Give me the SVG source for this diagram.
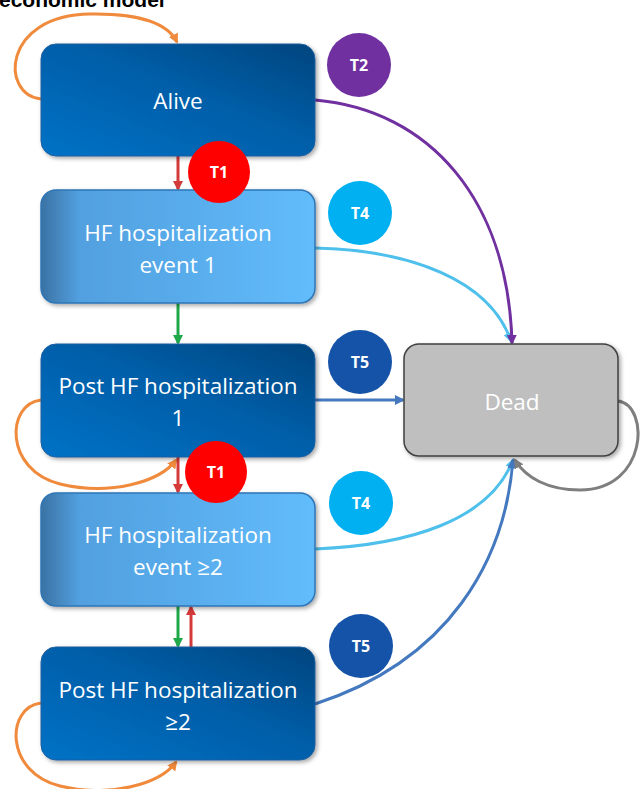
<svg xmlns="http://www.w3.org/2000/svg" width="641" height="789" viewBox="0 0 641 789">
<defs>
<style>
.lbl{font-family:"Open Sans","Liberation Sans",sans-serif;font-size:22.5px;fill:#ffffff;text-anchor:middle}
.tl{font-family:"Open Sans","Liberation Sans",sans-serif;font-size:16px;font-weight:bold;fill:#ffffff;text-anchor:middle}
.dark{fill:url(#gDark);stroke:#1f5f9f;stroke-width:1;filter:url(#sh)}
.light{fill:url(#gLight);stroke:#2e75b6;stroke-width:1.5;filter:url(#sh)}
.c{fill:none;stroke-width:3}
</style>
<linearGradient id="gDark" x1="0" y1="1" x2="1" y2="0">
<stop offset="0" stop-color="#0072c6"/>
<stop offset="0.55" stop-color="#005ea8"/>
<stop offset="1" stop-color="#00457e"/>
</linearGradient>
<linearGradient id="gLight" x1="0" y1="0" x2="1" y2="0">
<stop offset="0" stop-color="#3a72a3"/>
<stop offset="0.14" stop-color="#52a0e0"/>
<stop offset="0.5" stop-color="#58abea"/>
<stop offset="1" stop-color="#62bcfc"/>
</linearGradient>
<filter id="sh" x="-10%" y="-10%" width="125%" height="130%">
<feDropShadow dx="2" dy="2" stdDeviation="2" flood-color="#000" flood-opacity="0.35"/>
</filter>
<marker id="mOr" markerWidth="10" markerHeight="10" refX="8" refY="5" orient="auto" markerUnits="userSpaceOnUse"><path d="M0,0 L10,5 L0,10 z" fill="#f08a3c"/></marker>
<marker id="mRed" markerWidth="10" markerHeight="10" refX="8" refY="5" orient="auto" markerUnits="userSpaceOnUse"><path d="M0,0 L10,5 L0,10 z" fill="#d43a3a"/></marker>
<marker id="mGr" markerWidth="10" markerHeight="10" refX="8" refY="5" orient="auto" markerUnits="userSpaceOnUse"><path d="M0,0 L10,5 L0,10 z" fill="#1fa84a"/></marker>
<marker id="mPu" markerWidth="10" markerHeight="10" refX="8" refY="5" orient="auto" markerUnits="userSpaceOnUse"><path d="M0,0 L10,5 L0,10 z" fill="#7030a0"/></marker>
<marker id="mLb" markerWidth="10" markerHeight="10" refX="8" refY="5" orient="auto" markerUnits="userSpaceOnUse"><path d="M0,0 L10,5 L0,10 z" fill="#4fc0ec"/></marker>
<marker id="mSb" markerWidth="10" markerHeight="10" refX="8" refY="5" orient="auto" markerUnits="userSpaceOnUse"><path d="M0,0 L10,5 L0,10 z" fill="#4479c0"/></marker>
<marker id="mGy" markerWidth="10" markerHeight="10" refX="8" refY="5" orient="auto" markerUnits="userSpaceOnUse"><path d="M0,0 L10,5 L0,10 z" fill="#7f7f7f"/></marker>
</defs>
<rect width="641" height="789" fill="#ffffff"/>
<text x="-1" y="7" font-family="Liberation Sans, Arial, sans-serif" font-weight="bold" font-size="21" fill="#000">economic model</text>

<g id="connectors">
<path class="c" stroke="#f08a3c" d="M41,99 C0,95 2,15 90,14 C140,13 168,24 177,42" marker-end="url(#mOr)"/>
<path class="c" stroke="#f08a3c" d="M41,400 C6,404 4,470 60,484 C110,496 160,482 176,460" marker-end="url(#mOr)"/>
<path class="c" stroke="#f08a3c" d="M41,703 C6,707 4,772 60,786 C110,798 160,784 176,762" marker-end="url(#mOr)"/>
<path class="c" stroke="#d43a3a" d="M178,156 L178,189" marker-end="url(#mRed)"/>
<path class="c" stroke="#1fa84a" d="M178,303 L178,343" marker-end="url(#mGr)"/>
<path class="c" stroke="#d43a3a" d="M178,457 L178,492" marker-end="url(#mRed)"/>
<path class="c" stroke="#1fa84a" d="M178,606 L178,646" marker-end="url(#mGr)"/>
<path class="c" stroke="#d43a3a" d="M191,647 L191,607" marker-end="url(#mRed)"/>
<path class="c" stroke="#4fc0ec" d="M315,248 C410,250 490,280 511,341" marker-end="url(#mLb)"/>
<path class="c" stroke="#7030a0" d="M315,100 C430,110 508,200 512,343" marker-end="url(#mPu)"/>
<path class="c" stroke="#4479c0" d="M315,400 L403,400" marker-end="url(#mSb)"/>
<path class="c" stroke="#4fc0ec" d="M315,549 C410,545 490,520 513,460" marker-end="url(#mLb)"/>
<path class="c" stroke="#4479c0" d="M315,704 C450,660 505,560 513,460" marker-end="url(#mSb)"/>
<path class="c" stroke="#7f7f7f" d="M618,401 C650,405 648,490 580,490 C548,490 526,478 515,460" marker-end="url(#mGy)"/>
</g>

<g id="alive"><rect class="dark" x="41" y="44" width="274" height="112" rx="15"/><text class="lbl" x="178" y="109">Alive</text></g>
<g id="hf1"><rect class="light" x="41" y="190" width="274" height="113" rx="15"/><text class="lbl" x="178" y="241">HF hospitalization</text><text class="lbl" x="178" y="273">event 1</text></g>
<g id="post1"><rect class="dark" x="41" y="344" width="274" height="113" rx="15"/><text class="lbl" x="178" y="394">Post HF hospitalization</text><text class="lbl" x="178" y="426">1</text></g>
<g id="hf2"><rect class="light" x="41" y="493" width="274" height="113" rx="15"/><text class="lbl" x="178" y="543">HF hospitalization</text><text class="lbl" x="178" y="575">event ≥2</text></g>
<g id="post2"><rect class="dark" x="41" y="647" width="274" height="113" rx="15"/><text class="lbl" x="178" y="698">Post HF hospitalization</text><text class="lbl" x="178" y="730">≥2</text></g>
<g id="dead"><rect x="404" y="344" width="214" height="112" rx="15" fill="#bfbfbf" stroke="#404040" stroke-width="1.5" filter="url(#sh)"/><text class="lbl" x="512" y="410">Dead</text></g>

<g id="t2"><circle cx="359" cy="65" r="32" fill="#7030a0"/><text class="tl" x="359" y="71">T2</text></g>
<g id="t1a"><circle cx="219" cy="172" r="31" fill="#ff0000"/><text class="tl" x="219" y="178">T1</text></g>
<g id="t4a"><circle cx="360" cy="213" r="32" fill="#00b0f0"/><text class="tl" x="360" y="219">T4</text></g>
<g id="t5a"><circle cx="360" cy="362" r="32" fill="#1553a8"/><text class="tl" x="360" y="368">T5</text></g>
<g id="t1b"><circle cx="216" cy="472" r="31" fill="#ff0000"/><text class="tl" x="216" y="478">T1</text></g>
<g id="t4b"><circle cx="361" cy="503" r="32" fill="#00b0f0"/><text class="tl" x="361" y="509">T4</text></g>
<g id="t5b"><circle cx="361" cy="646" r="32" fill="#1553a8"/><text class="tl" x="361" y="652">T5</text></g>
</svg>
